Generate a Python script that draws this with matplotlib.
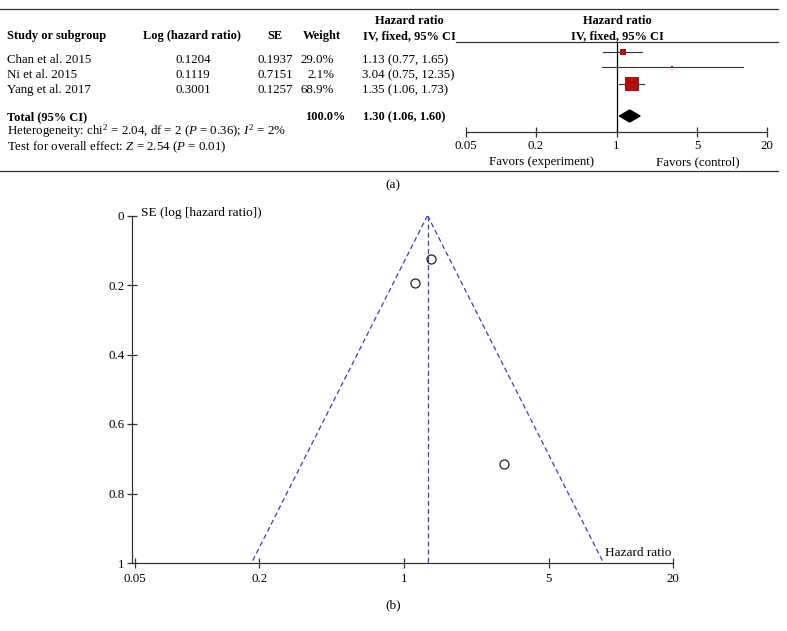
import numpy as np
import matplotlib
matplotlib.use('Agg')
import matplotlib.pyplot as plt
from matplotlib.lines import Line2D
from matplotlib.patches import Polygon

plt.rcParams['font.family'] = ['Liberation Serif', 'DejaVu Serif']
plt.rcParams['mathtext.fontset'] = 'custom'
plt.rcParams['mathtext.rm'] = 'Liberation Serif'
plt.rcParams['mathtext.it'] = 'Liberation Serif:italic'
plt.rcParams['mathtext.bf'] = 'Liberation Serif:bold'

# dados
studies = ['Chan et al. 2015', 'Ni et al. 2015', 'Yang et al. 2017']
log_hr_txt = ['0.1204', '0.1119', '0.3001']
se = [0.1937, 0.7151, 0.1257]
weight = [29.0, 2.1, 68.9]
hr = [1.13, 3.04, 1.35]
hr_lo = [0.77, 0.75, 1.06]
hr_hi = [1.65, 12.35, 1.73]
total_hr, total_lo, total_hi = 1.30, 1.06, 1.60
total_weight = 100.0
forest_ticks = [0.05, 0.2, 1, 5, 20]
se_ticks = [0, 0.2, 0.4, 0.6, 0.8, 1]

W, H = 787, 631
fig = plt.figure(figsize=(W / 100, H / 100), dpi=100)
FS = 9.3
FB = 8.9
LC = '#333333'
RED = '#b00c0c'


def T(x, y, s, **kw):
    kw.setdefault('fontsize', FS)
    kw.setdefault('va', 'center')
    fig.text(x / W, 1 - y / H, s, **kw)


def hline(x0, x1, y, lw=0.9):
    fig.add_artist(Line2D([x0 / W, x1 / W], [1 - y / H, 1 - y / H],
                          transform=fig.transFigure, color=LC, lw=lw))


def axes_px(x0, y0, x1, y1):
    return fig.add_axes([x0 / W, 1 - y1 / H, (x1 - x0) / W, (y1 - y0) / H])


# (a) tabela
hline(0, 778, 9)
hline(456, 778, 42)
hline(0, 778, 171)

T(7, 36, 'Study or subgroup', weight='bold', fontsize=FB)
T(192, 36, 'Log (hazard ratio)', weight='bold', ha='center', fontsize=FB)
T(275, 36, 'SE', weight='bold', ha='center', fontsize=FB)
T(322, 36, 'Weight', weight='bold', ha='center', fontsize=FB)
T(409, 21, 'Hazard ratio', weight='bold', ha='center', fontsize=FB)
T(409, 36, 'IV, fixed, 95% CI', weight='bold', ha='center', fontsize=FB)
T(617, 21, 'Hazard ratio', weight='bold', ha='center', fontsize=FB)
T(617, 36, 'IV, fixed, 95% CI', weight='bold', ha='center', fontsize=FB)

row_y = [60, 75, 90]
for i in range(len(studies)):
    T(7, row_y[i], studies[i])
    T(193, row_y[i], log_hr_txt[i], ha='center')
    T(275, row_y[i], '%.4f' % se[i], ha='center')
    T(334, row_y[i], '%.1f%%' % weight[i], ha='right')
    T(362, row_y[i], '%.2f (%.2f, %.2f)' % (hr[i], hr_lo[i], hr_hi[i]))

T(7, 117, 'Total (95% CI)', weight='bold', fontsize=FB)
T(345, 117, '%.1f%%' % total_weight, weight='bold', ha='right', fontsize=FB)
T(363, 117, '%.2f (%.2f, %.2f)' % (total_hr, total_lo, total_hi), weight='bold', fontsize=FB)
T(7, 131, r'Heterogeneity: chi$^2$ = 2.04, df = 2 ($P$ = 0.36); $I^2$ = 2%')
T(7, 147, r'Test for overall effect: $Z$ = 2.54 ($P$ = 0.01)')

# forest plot
ax = axes_px(466, 42, 767, 132)
ax.set_xscale('log')
ax.set_xlim(0.05, 20)
ax.set_ylim(132, 42)
for s in ['top', 'right', 'left']:
    ax.spines[s].set_visible(False)
ax.spines['bottom'].set_color(LC)
ax.spines['bottom'].set_linewidth(0.9)
ax.set_yticks([])
ax.set_xticks(forest_ticks)
ax.set_xticklabels([str(t) for t in forest_ticks])
ax.minorticks_off()
ax.tick_params(axis='x', direction='inout', length=7, width=0.9, color=LC,
               labelsize=FS, pad=2)
ax.axvline(1, color='black', lw=0.9)
ax.patch.set_alpha(0)

mark_y = [52, 67, 84]
for i in range(len(studies)):
    ax.plot([hr_lo[i], hr_hi[i]], [mark_y[i], mark_y[i]], color=LC, lw=0.8)
    side = max(0.44 * weight[i] ** 0.8, 2.0)
    ax.plot(hr[i], mark_y[i], 's', color=RED, ms=side * 0.72, mew=0)

dy = 116
ax.add_patch(Polygon([[total_lo, dy], [total_hr, dy - 6], [total_hi, dy], [total_hr, dy + 6]],
                     closed=True, color='black'))

T(542, 162, 'Favors (experiment)', ha='center')
T(698, 162, 'Favors (control)', ha='center')
T(393, 185, '(a)', ha='center', fontsize=9.5)

# (b) funnel plot
ax2 = axes_px(132, 215.5, 673, 563)
ax2.set_xscale('log')
ax2.set_xlim(0.0484, 20)
ax2.set_ylim(1, 0)
ax2.spines['top'].set_visible(False)
ax2.spines['right'].set_visible(False)
for s in ['left', 'bottom']:
    ax2.spines[s].set_color(LC)
    ax2.spines[s].set_linewidth(0.9)
ax2.set_xticks(forest_ticks)
ax2.set_xticklabels([str(t) for t in forest_ticks])
ax2.minorticks_off()
ax2.set_yticks(se_ticks)
ax2.set_yticklabels(['%g' % t for t in se_ticks])
ax2.tick_params(direction='inout', length=7, width=0.9, color=LC, labelsize=9.3)
ax2.tick_params(axis='x', pad=4)
ax2.tick_params(axis='y', pad=2)
ax2.patch.set_alpha(0)

se_line = np.array([0, 1])
blue = '#3a3ad0'
ax2.plot([total_hr, total_hr], [0, 1], '--', color=blue, lw=0.9, dashes=(4, 2.5))
ax2.plot(total_hr * np.exp(-1.96 * se_line), se_line, '--', color=blue, lw=0.9, dashes=(4, 2.5))
ax2.plot(total_hr * np.exp(1.96 * se_line), se_line, '--', color=blue, lw=0.9, dashes=(4, 2.5))
ax2.plot(hr, se, 'o', mfc='none', mec='#222222', ms=6.5, mew=0.9, clip_on=False)

T(141, 213, 'SE (log [hazard ratio])', fontsize=9.6)
T(671, 553, 'Hazard ratio', ha='right', fontsize=9.6)
T(393, 605, '(b)', ha='center', fontsize=9.5)

plt.savefig('out.png', dpi=100)
